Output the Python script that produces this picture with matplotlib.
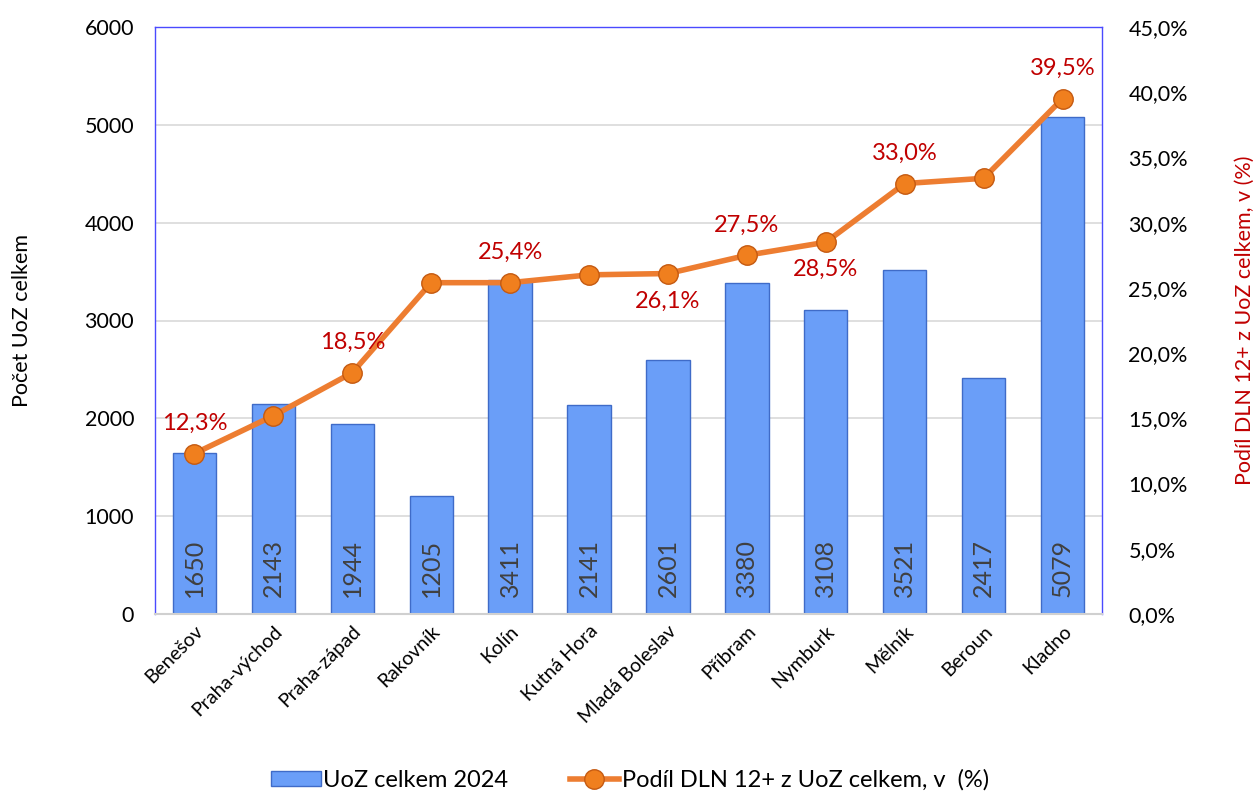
import matplotlib
matplotlib.use("Agg")
import matplotlib.pyplot as plt
import numpy as np
from matplotlib.lines import Line2D
from matplotlib.patches import Patch

plt.rcParams['font.family'] = ['Lato', 'DejaVu Sans']

categories = ["Benešov", "Praha-východ", "Praha-západ", "Rakovník", "Kolín", "Kutná Hora",
              "Mladá Boleslav", "Příbram", "Nymburk", "Mělník", "Beroun", "Kladno"]
uoz = [1650, 2143, 1944, 1205, 3411, 2141, 2601, 3380, 3108, 3521, 2417, 5079]
podil = [12.3, 15.2, 18.5, 25.4, 25.4, 26.0, 26.1, 27.5, 28.5, 33.0, 33.4, 39.5]
shown_labels = {0: "above", 2: "above", 4: "above", 6: "below", 7: "above",
                8: "below", 9: "above", 11: "above"}

fig = plt.figure(figsize=(12.6, 7.96), dpi=100)
ax = fig.add_axes([155/1260, 1-614/796, (1102-155)/1260, (614-27)/796])
x = np.arange(len(categories))

ax.bar(x, uoz, width=0.55, color="#6A9EF8", edgecolor="#3F6BC8", linewidth=1.0, zorder=2)
ax.set_ylim(0, 6000)
ax.set_xlim(-0.5, len(categories)-0.5)
ax.set_yticks(np.arange(0, 6001, 1000))
ax.yaxis.grid(True, color="#D9D9D9", linewidth=1.2, zorder=0)
ax.set_axisbelow(True)
ax.tick_params(axis='y', length=0, labelsize=15.5, pad=15)
ax.tick_params(axis='x', length=0, pad=6)
ax.set_xticks(x)
ax.set_xticklabels(categories, rotation=45, ha='right', rotation_mode='anchor', fontsize=14)
for s in ['left', 'top', 'right']:
    ax.spines[s].set_color("#4A4AFF")
    ax.spines[s].set_linewidth(1.0)
ax.spines['bottom'].set_color("#D0D0D0")
ax.spines['bottom'].set_linewidth(1.5)
ax.set_ylabel("Počet UoZ celkem", fontsize=15.5)
ax.yaxis.set_label_coords((32-155)/947, 0.5)

for xi, v in zip(x, uoz):
    ax.text(xi, 170, str(v), rotation=90, ha='center', va='bottom', fontsize=18, color="#404040", zorder=5)

ax2 = ax.twinx()
ax2.set_ylim(0, 45)
ax2.set_yticks(np.arange(0, 46, 5))
ax2.set_yticklabels([f"{t:.1f}%".replace('.', ',') for t in np.arange(0, 46, 5)])
ax2.tick_params(axis='y', length=0, labelsize=15.5, pad=19)
for s in ax2.spines.values():
    s.set_visible(False)
ax2.plot(x, podil, color="#ED7D31", linewidth=4, marker='o', markersize=14,
         markerfacecolor="#F07F1E", markeredgecolor="#C55A11", markeredgewidth=1, zorder=4)
ax2.set_ylabel("Podíl DLN 12+ z UoZ celkem, v (%)", fontsize=15.5, color="#C00000")
ax2.yaxis.set_label_coords((1235-155)/947, 0.5)

for i, pos in shown_labels.items():
    lbl = f"{podil[i]:.1f}%".replace('.', ',')
    off = 2.3 if pos == "above" else -2.1
    ax2.text(x[i], podil[i] + off, lbl, ha='center', va='center', fontsize=17, color="#C00000", zorder=6)

handles = [Patch(facecolor="#6A9EF8", edgecolor="#3F6BC8"),
           Line2D([0], [0], color="#ED7D31", linewidth=4, marker='o', markersize=14,
                  markerfacecolor="#F07F1E", markeredgecolor="#C55A11")]
fig.legend(handles, ["UoZ celkem 2024", "Podíl DLN 12+ z UoZ celkem, v  (%)"],
           loc='center', bbox_to_anchor=(0.5, 1-780/796), ncol=2, frameon=False,
           fontsize=17, handlelength=2.1, handleheight=0.6, columnspacing=2.6, handletextpad=0.1)

fig.savefig("out.png", dpi=100)
